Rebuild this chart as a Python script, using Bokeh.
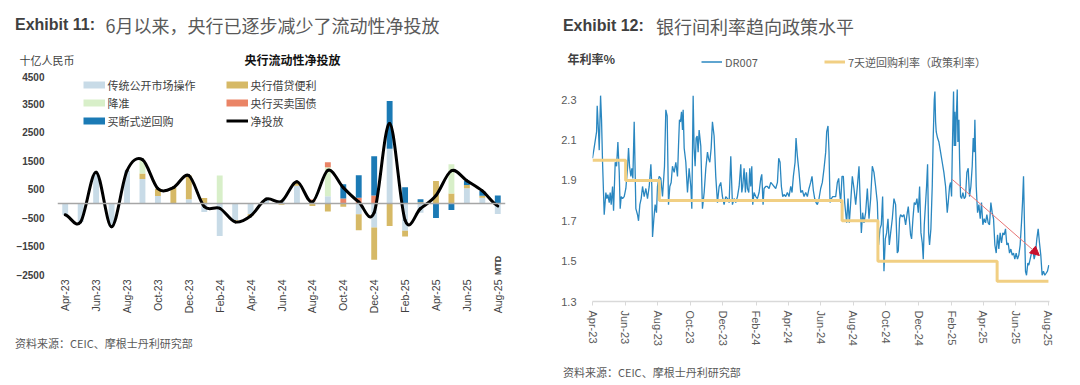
import numpy as np
import pandas as pd
from bokeh.plotting import figure
from bokeh.layouts import row, column
from bokeh.models import (Range1d, FixedTicker, Span, Label, Legend, LegendItem,
                          Arrow, NormalHead, DatetimeTickFormatter, CustomJSTickFormatter)
from bokeh.embed import file_html
from bokeh.resources import INLINE

# ---------------- Exhibit 11 data (十亿人民币) ----------------
months = ["Apr-23", "May-23", "Jun-23", "Jul-23", "Aug-23", "Sep-23", "Oct-23", "Nov-23",
          "Dec-23", "Jan-24", "Feb-24", "Mar-24", "Apr-24", "May-24", "Jun-24", "Jul-24",
          "Aug-24", "Sep-24", "Oct-24", "Nov-24", "Dec-24", "Jan-25", "Feb-25", "Mar-25",
          "Apr-25", "May-25", "Jun-25", "Jul-25", "Aug-25"]
omo = [-400, -650, 1100, -820, 1150, 860, 260, 0, 150, -300, -1150, -590, -380, 150, 120,
       620, 60, 250, 0, -380, -850, 1920, -960, -330, 0, 0, 530, 200, -370]
lending = [0, 0, 0, 0, 0, 190, 260, 560, 830, 190, 0, -60, -60, 0, -50,
           140, -90, -280, -120, -560, -1130, -790, -200, 40, 790, 350, 120, 70, 0]
rrr = [0, 0, 0, 0, 0, 490, 0, 0, 0, 0, 980, 0, 0, 0, 0,
       0, 0, 1020, 0, 0, 0, 0, 0, 0, 0, 1030, 0, 0, 0]
bonds = [0, 0, 0, 0, 0, 0, 0, 0, 0, 0, 0, 0, 0, 0, 0,
         0, 80, 175, 175, 200, 280, 0, 0, 0, 0, 0, 0, 0, 0]
outright = [0, 0, 0, 0, 0, 0, 0, 0, 0, 0, 0, 0, 0, 0, 0,
            0, 0, 0, 500, 790, 1380, 1680, 570, 110, -510, -230, 150, 170, 280]
y_ticks_left = [-2500, -1500, -500, 500, 1500, 2500, 3500, 4500]
mtd_note = ("MTD", 28, -2180)

# ---------------- Exhibit 12 data (年利率%) ----------------
dr_start = "2023-04-12"
dr_day = [0, 3, 7.6, 8.8, 11.3, 12.6, 15.1, 16.9, 18.8, 21.9, 25, 26.9, 28.8, 31.3, 33.1, 35, 37.5, 39.4,
          42.5, 45, 47.5, 50, 51.8, 53.7, 56.2, 59.3, 62.4, 65.5, 67.4, 69.3, 71.8, 73.6, 75.5, 78,
          81.1, 84.2, 86.1, 88.6, 91.1, 93.6, 96.7, 99.8, 102.9, 106.1, 109.2, 111, 112.3, 114.8,
          117.2, 119.7, 121.6, 124.7, 127.8, 131, 134.7, 137.2, 139.7, 142.2, 144.7, 147.2, 149.6,
          152.8, 155.9, 159, 160.9, 162.7, 164.6, 166.5, 168.4, 169.6, 171.5, 174.6, 177.7, 180.8,
          183.9, 185.8, 188.3, 190.1, 192, 193.9, 195.8, 197.6, 199.5, 202.6, 205.7, 208.9, 212,
          215.1, 217, 219.5, 222, 224.4, 227.5, 230.6, 233.8, 236.9, 240, 243.1, 246.2, 249.3,
          252.5, 255.6, 258.7, 261.8, 264.9, 268, 271.2, 274.3,
          277.4, 279.3, 281.1, 283.6, 286.1, 288, 289.9, 292.4, 294.2, 296.1, 298, 299.8, 302.3,
          305.4, 308.5, 311.7, 314.8, 316.7, 319.1, 321, 324.1, 327.2, 330.4, 333.5, 336.6, 339.7,
          342.8, 346, 348.4, 350.9, 353.4, 355.9, 358.4, 361.5, 364.6, 367.7, 370.9, 373.3, 375.8,
          379, 380.8, 383.3, 386.4, 389.6, 392.7, 395.8, 398.9, 402, 405.1, 408.2, 410.7, 413.2,
          415.7, 418.2, 420.7, 423.8, 426.9, 430, 433.2, 436.3, 438.1, 440.6, 442.5, 444.4, 446.9,
          449.4, 451.9, 455, 458.1, 460.6, 462.4, 464.3, 466.8, 469.3, 471.8, 475.5, 478, 480.5,
          483, 486.1, 489.2, 492.4, 495.5, 498.6, 500.5, 503, 505.4, 507.9, 511, 514.2, 517.3,
          520.4, 523.5, 526.6, 529.7, 532.9, 535.3, 537.8, 540.3, 542.8, 545.3, 547.8, 550.3,
          552.8, 555.3, 557.8, 560.9, 564,
          567.1, 570.2, 572.1, 574.6, 576.4, 579.6, 582.7, 585.8, 588.9, 590.8, 593.3, 595.1, 597,
          599.5, 602, 604.5, 607, 609.5, 612, 614.5, 617, 618.8, 620.7, 623.2, 625, 626.9, 628.8,
          630.6, 633.1, 635.6, 637.5, 639.4, 640.6, 641.9, 643.1, 645.6, 648.1, 651.2, 654.3,
          657.4, 660.6, 663.7, 665.5, 668, 669.9, 671.8, 673, 674.3, 675.5, 676.8, 678, 679.3,
          680.5, 682.4, 683.6, 685.5, 686.7, 688.6, 690.5, 693, 695.5, 697.9, 700.4, 702.9, 705.4,
          707.9, 710.4, 712.3, 714.1, 715.4, 717.9, 720.4, 722.9, 725.4, 727.8, 730.3, 732.8,
          735.3, 737.8, 740.3, 742.8, 745.3, 747.8, 750.3, 752.8, 755.3, 757.8, 760.2, 762.7,
          765.2, 767.7, 770.2, 772.7, 775.2, 777.7, 780.2, 782.7, 785.2, 787.7, 790.1, 792.6,
          795.1, 797.6, 800.1, 802.6, 804.5, 806.4, 808.2, 810.1, 812, 814.5, 816.3, 818.8, 821.3,
          823.8, 826.3, 828.8, 831.3, 833.8, 836.3, 838.7, 841.2, 843.7, 846.2, 848.7, 851.2, 853.7]
dr_val = [2.01, 2.06, 2.14, 2.27, 2.14, 2.05, 2.32, 2.20, 1.99, 1.73, 1.84, 1.81, 1.83, 1.79, 1.84, 1.78,
          1.87, 1.75, 1.99, 1.97, 2.09, 1.94, 1.76, 1.82, 1.81, 1.82, 1.86, 1.96, 2.06, 1.97, 1.92,
          1.96, 1.91, 2.19, 1.76, 1.73, 1.70, 1.78, 1.81, 1.87, 1.82, 1.86, 1.81, 1.87, 1.98, 1.87,
          1.62, 1.71, 1.78, 1.74, 1.87, 1.92, 1.91, 1.82, 1.97, 2.25, 2.22, 1.78, 1.87, 1.89, 1.97,
          1.94, 1.99, 1.92, 2.07, 2.20, 2.19, 2.24, 2.15, 2.25, 2.06, 1.99, 1.84, 1.96, 1.87, 1.76,
          2.32, 2.06, 1.97, 2.11, 2.12, 2.04, 2.15, 2.07, 1.76, 1.84, 1.96, 2.04, 2.01, 1.99, 2.06,
          2.19, 2.12, 1.92, 1.79, 1.87, 1.89, 1.82, 1.78, 1.82, 1.81, 1.79, 2.02, 1.78, 1.81, 1.79,
          1.82, 1.87,
          1.98, 1.84, 1.87, 1.96, 1.84, 1.94, 1.86, 1.84, 1.96, 1.87, 1.97, 1.78, 1.84, 1.82, 1.81,
          1.84, 1.91, 1.93, 1.78, 1.86, 1.87, 1.87, 1.86, 1.89, 1.88, 1.87, 1.86, 1.89, 2.01, 1.99,
          1.87, 1.82, 1.83, 1.82, 1.84, 1.82, 1.87, 1.84, 1.92, 1.99, 2.11, 2.02, 1.94, 1.84, 1.85,
          1.82, 1.84, 1.82, 1.86, 1.89, 1.92, 1.85, 1.81, 1.79, 1.78, 1.81, 1.86, 1.89, 1.96, 2.04,
          2.14, 2.17, 2.04, 1.79, 1.81, 1.82, 1.82, 1.82, 1.89, 1.91, 1.84, 1.79, 1.92, 1.92, 1.79,
          1.69, 1.81, 1.69, 1.79, 1.92, 1.86, 1.78, 1.87, 1.97, 1.82, 1.64, 1.74, 1.69, 1.74, 1.86,
          1.71, 1.81, 1.97, 1.94, 1.87, 1.79, 1.58, 1.66, 1.68, 1.82, 1.45, 1.61, 1.64, 1.71, 1.58,
          1.64, 1.71, 1.81,
          1.78, 1.54, 1.55, 1.71, 1.73, 1.72, 1.73, 1.68, 1.74, 1.77, 1.69, 1.63, 1.61, 1.71, 1.79,
          1.78, 1.81, 1.74, 1.87, 1.64, 1.59, 1.51, 1.68, 1.79, 1.87, 1.98, 1.64, 1.58, 1.66, 1.87,
          2.12, 2.30, 2.34, 2.19, 2.14, 2.11, 2.09, 2.04, 1.99, 1.94, 1.87, 1.74, 1.79, 1.87, 1.89,
          1.82, 2.02, 2.19, 2.34, 2.07, 2.24, 2.07, 2.20, 2.35, 2.09, 2.20, 2.01, 1.82, 1.81, 1.84,
          1.81, 1.82, 1.94, 1.96, 1.82, 1.87, 1.97, 2.11, 2.04, 2.20, 1.87, 1.74, 1.78, 1.71, 1.79,
          1.68, 1.71, 1.69, 1.73, 1.69, 1.68, 1.79, 1.74, 1.71, 1.58, 1.54, 1.63, 1.56, 1.64, 1.59,
          1.64, 1.63, 1.66, 1.58, 1.59, 1.54, 1.56, 1.53, 1.54, 1.51, 1.54, 1.51, 1.53, 1.58, 1.69,
          1.79, 1.92, 1.68, 1.45, 1.43, 1.49, 1.48, 1.51, 1.54, 1.56, 1.51, 1.54, 1.61, 1.66, 1.59,
          1.53, 1.43, 1.45, 1.43, 1.44, 1.45, 1.48]
policy_dates = ["2023-04-12", "2023-06-13", "2023-08-15", "2024-07-22", "2024-09-27", "2025-05-08", "2025-08-12"]
policy_rate = [2.0, 1.9, 1.8, 1.7, 1.5, 1.4, 1.4]
arrow_dates = ["2025-02-13", "2025-07-26"]
arrow_vals = [1.905, 1.528]
x_tick_dates = ["2023-04-12", "2023-06-12", "2023-08-12", "2023-10-12", "2023-12-12", "2024-02-12",
                "2024-04-12", "2024-06-12", "2024-08-12", "2024-10-12", "2024-12-12", "2025-02-12",
                "2025-04-12", "2025-06-12", "2025-08-12"]
y_ticks_right = [1.3, 1.5, 1.7, 1.9, 2.1, 2.3]

CJK = "Noto Sans CJK SC"
LAT = "Liberation Sans"
PW = 540          # width of each panel


def ms(d):
    return pd.Timestamp(d).value / 1e6


def no_align(f):
    try:
        f.frame_align = False
    except Exception:
        pass
    return f


def text_fig(h):
    """A blank figure whose data coordinates are its pixels (y downward)."""
    f = figure(width=PW, height=h, x_range=Range1d(0, PW), y_range=Range1d(h, 0),
               output_backend="svg", toolbar_location=None, min_border=0,
               x_axis_location=None, y_axis_location=None)
    f.outline_line_color = None
    f.grid.visible = False
    return no_align(f)


def add_text(p, x, y, text, size, color, bold=False, font=CJK, align="left", angle=0):
    p.add_layout(Label(x=x, y=y, text=text, text_font=font, text_font_size=f"{size}px",
                       text_color=color, text_font_style="bold" if bold else "normal",
                       text_baseline="middle", text_align=align, angle=angle))


leg_kw = dict(orientation="vertical", glyph_width=22, glyph_height=13, label_height=13, spacing=2,
              padding=0, margin=0, label_standoff=3, border_line_color=None, background_fill_alpha=0,
              label_text_font_size="11px", label_text_font=CJK, label_text_color="#404040")

# ======================= Left panel =======================
HH = 72
h1 = text_fig(HH)
add_text(h1, 14.5, 24, "Exhibit 11:", 16, "#404040", bold=True, font=LAT)
add_text(h1, 105, 24, "6月以来，央行已逐步减少了流动性净投放", 18, "#595959")
add_text(h1, 19, 59, "十亿人民币", 11, "#404040")
add_text(h1, 292, 59, "央行流动性净投放", 12, "#111111", bold=True, align="center")

CH1 = 258
FL1, FT1, FR1, FB1 = 57, 3, 505, 202
p1 = figure(width=PW, height=CH1, x_range=Range1d(-0.5, len(months) - 0.5), y_range=Range1d(-2500, 4500),
            output_backend="svg", toolbar_location=None,
            min_border_left=FL1, min_border_right=PW - FR1, min_border_top=FT1, min_border_bottom=CH1 - FB1)
no_align(p1)
p1.outline_line_color = None
p1.grid.visible = False

p1.yaxis.ticker = FixedTicker(ticks=y_ticks_left)
p1.xaxis.ticker = FixedTicker(ticks=list(range(0, len(months), 2)))
p1.xaxis.formatter = CustomJSTickFormatter(args=dict(labels=months),
                                           code="const k = Math.round(tick); return labels[k] || '';")
p1.xaxis.major_label_orientation = np.pi / 2
for ax in (p1.xaxis, p1.yaxis):
    ax.axis_line_alpha = 0
    ax.major_tick_line_alpha = 0
    ax.major_tick_in = 0
    ax.major_tick_out = 0
    ax.minor_tick_line_alpha = 0
    ax.major_label_text_font = LAT
    ax.major_label_text_color = "#404040"
p1.yaxis.major_label_text_font_size = "10px"
p1.xaxis.major_label_text_font_size = "10.5px"
p1.yaxis.major_label_standoff = 13
p1.yaxis.major_label_text_font_style = "bold"
p1.xaxis.major_label_standoff = 5

series = [("传统公开市场操作", omo, "#c8dbe7"),
          ("央行借贷便利", lending, "#d6b966"),
          ("降准", rrr, "#d8efc9"),
          ("央行买卖国债", bonds, "#ea8466"),
          ("买断式逆回购", outright, "#1b7ab5")]
n = len(months)
xs = np.arange(n)
pos_base = np.zeros(n)
neg_base = np.zeros(n)
dummies = {}
for name, vals, col in series:
    v = np.array(vals, dtype=float)
    bottom = np.where(v >= 0, pos_base, neg_base)
    top = bottom + v
    pos_base = np.where(v >= 0, top, pos_base)
    neg_base = np.where(v < 0, top, neg_base)
    p1.vbar(x=xs, width=0.38, bottom=bottom, top=top, fill_color=col, line_color=None)
    # legend key only (kept outside the visible range)
    dummies[name] = p1.line(x=[-5, -4], y=[0, 0], line_color=col, line_width=7)

p1.add_layout(Span(location=0, dimension="width", line_color="#a6a6a6", line_width=1.5))

net = np.sum([np.array(s[1], dtype=float) for s in series], axis=0)
ext = np.concatenate([[net[0]], net, [net[-1]]])
i = np.arange(n - 1)
p1.bezier(x0=i, y0=net[:-1], x1=i + 1, y1=net[1:],
          cx0=i + 1 / 3, cy0=net[:-1] + (ext[2:n + 1] - ext[0:n - 1]) / 6,
          cx1=i + 1 - 1 / 3, cy1=net[1:] - (ext[3:n + 2] - ext[1:n]) / 6,
          line_color="black", line_width=3, line_cap="round")
dummies["净投放"] = p1.line(x=[-5, -4], y=[0, 0], line_color="black", line_width=3)

leg_bottom = FB1 - (128.8 - 72)
p1.add_layout(Legend(items=[LegendItem(label=k, renderers=[dummies[k]]) for k in ["传统公开市场操作", "降准", "买断式逆回购"]],
                     location=(82.6 - FL1, leg_bottom), **leg_kw))
p1.add_layout(Legend(items=[LegendItem(label=k, renderers=[dummies[k]]) for k in ["央行借贷便利", "央行买卖国债", "净投放"]],
                     location=(225.5 - FL1, leg_bottom), **leg_kw))
p1.add_layout(Label(x=mtd_note[1], y=mtd_note[2], text=mtd_note[0], text_font=LAT, text_font_size="9px",
                    text_color="#404040", text_font_style="bold", text_baseline="middle",
                    text_align="center", angle=np.pi / 2))

FH1 = 50
f1 = text_fig(FH1)
add_text(f1, 14.5, 12.6, "资料来源：CEIC、摩根士丹利研究部", 11, "#595959")

# ======================= Right panel =======================
h2 = text_fig(HH)
add_text(h2, 22.4, 25, "Exhibit 12:", 16, "#404040", bold=True, font=LAT)
add_text(h2, 115.5, 25, "银行间利率趋向政策水平", 18, "#595959")
add_text(h2, 27, 58, "年利率%", 12, "#404040", bold=True)
k_dr = h2.line(x=[-20, -10], y=[-20, -20], line_color="#2a87c0", line_width=1.5)
k_pol = h2.line(x=[-20, -10], y=[-20, -20], line_color="#f1cf83", line_width=3)
leg_kw2 = dict(leg_kw)
leg_kw2.update(glyph_width=21, label_text_color="#595959")
h2.add_layout(Legend(items=[LegendItem(label="DR007", renderers=[k_dr])],
                     location=(161, HH - 69.5), **leg_kw2))
h2.add_layout(Legend(items=[LegendItem(label="7天逆回购利率（政策利率）", renderers=[k_pol])],
                     location=(284, HH - 69.5), **leg_kw2))

CH2 = 286
FL2, FT2, FR2, FB2 = 52, 7, 509, 229
x0 = pd.Timestamp(dr_start)
p2 = figure(width=PW, height=CH2, x_axis_type="datetime",
            x_range=Range1d(ms(dr_start), ms("2025-08-14")), y_range=Range1d(1.3, 2.4),
            output_backend="svg", toolbar_location=None,
            min_border_left=FL2, min_border_right=PW - FR2, min_border_top=FT2, min_border_bottom=CH2 - FB2)
no_align(p2)
p2.outline_line_color = None
p2.grid.visible = False

p2.yaxis.ticker = FixedTicker(ticks=y_ticks_right)
p2.yaxis.axis_line_color = None
p2.yaxis.major_tick_line_color = None
p2.yaxis.minor_tick_line_color = None
p2.yaxis.major_label_standoff = 10
p2.xaxis.ticker = FixedTicker(ticks=[ms(d) for d in x_tick_dates])
fmt = "%b-%y"
p2.xaxis.formatter = DatetimeTickFormatter(microseconds=fmt, milliseconds=fmt, seconds=fmt, minsec=fmt,
                                           minutes=fmt, hourmin=fmt, hours=fmt, days=fmt, months=fmt, years=fmt)
p2.xaxis.major_label_orientation = "vertical"
p2.xaxis.axis_line_color = "#d9d9d9"
p2.xaxis.axis_line_width = 1.5
p2.xaxis.major_tick_line_color = "#d9d9d9"
p2.xaxis.major_tick_out = 4
p2.xaxis.major_tick_in = 0
p2.xaxis.minor_tick_line_color = None
p2.xaxis.major_label_standoff = 5
for ax in (p2.xaxis, p2.yaxis):
    ax.major_label_text_font = LAT
    ax.major_label_text_font_size = "11px"
    ax.major_label_text_color = "#595959"

dr_dates = x0 + pd.to_timedelta(dr_day, unit="D")
p2.line(x=dr_dates, y=dr_val, line_color="#2a87c0", line_width=1.3)
p2.step(x=pd.to_datetime(policy_dates), y=policy_rate, mode="after", line_color="#f1cf83", line_width=3)
p2.add_layout(Arrow(end=NormalHead(size=9, fill_color="#c8102e", line_color="#c8102e"),
                    x_start=ms(arrow_dates[0]), y_start=arrow_vals[0],
                    x_end=ms(arrow_dates[1]), y_end=arrow_vals[1],
                    line_color="#e87575", line_width=1))

FH2 = 22
f2 = text_fig(FH2)
add_text(f2, 22.4, 13, "资料来源：CEIC、摩根士丹利研究部", 11, "#595959")

layout = row(column(h1, p1, f1), column(h2, p2, f2))
open("out.html", "w").write(file_html(layout, INLINE))
